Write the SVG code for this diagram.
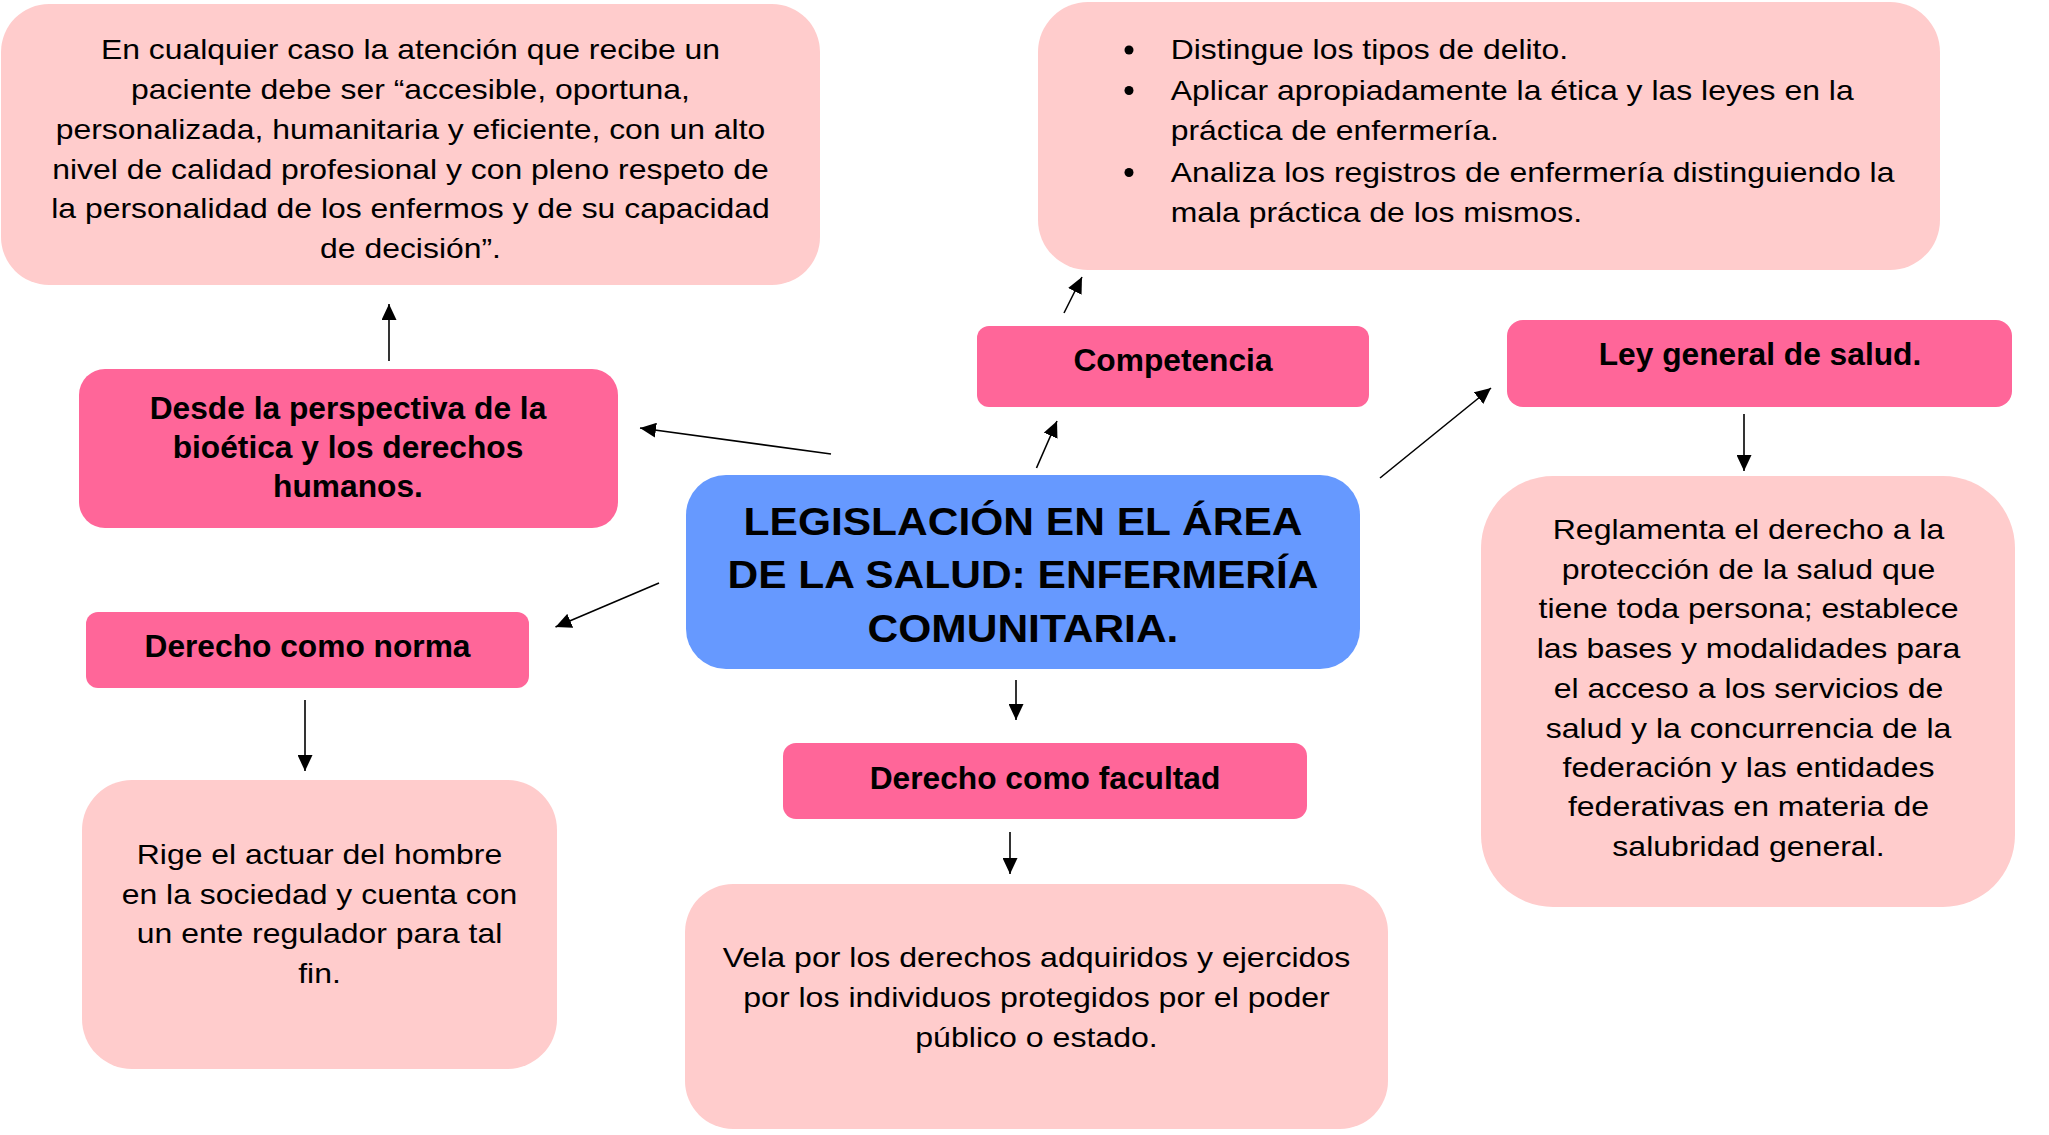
<svg xmlns="http://www.w3.org/2000/svg" width="2049" height="1135" viewBox="0 0 2049 1135">
<style>
.light{fill:#FFCCCC}
.hot{fill:#FF6699}
.blue{fill:#6699FF}
.t{font-family:"Liberation Sans",Arial,sans-serif;font-size:28.5px;fill:#000}
.c{text-anchor:middle}
.b{font-family:"Liberation Sans",Arial,sans-serif;font-size:30.5px;font-weight:bold;fill:#000;text-anchor:middle}
.title{font-family:"Liberation Sans",Arial,sans-serif;font-size:39px;font-weight:bold;fill:#000;text-anchor:middle}
.conn line{stroke:#000;stroke-width:1.6;fill:none;marker-end:url(#ah)}
</style>
<defs>
<marker id="ah" markerUnits="userSpaceOnUse" markerWidth="16" markerHeight="15" refX="16" refY="7.5" orient="auto">
<path d="M0,0 L16,7.5 L0,15 z" fill="#000"/>
</marker>
</defs>
<rect width="2049" height="1135" fill="#fff"/>

<g id="node-atencion">
<rect class="light" x="1" y="4" width="819" height="281" rx="48" ry="48"/>
<g transform="translate(410.5 0) scale(1.12 1)">
<text class="t c" x="0" y="59.5">En cualquier caso la atención que recibe un</text>
<text class="t c" x="0" y="99.3">paciente debe ser “accesible, oportuna,</text>
<text class="t c" x="0" y="139">personalizada, humanitaria y eficiente, con un alto</text>
<text class="t c" x="0" y="178.8">nivel de calidad profesional y con pleno respeto de</text>
<text class="t c" x="0" y="218.5">la personalidad de los enfermos y de su capacidad</text>
<text class="t c" x="0" y="258">de decisión”.</text>
</g>
</g>

<g id="node-competencias-lista">
<rect class="light" x="1038" y="2" width="902" height="268" rx="50" ry="50"/>
<circle cx="1129" cy="50" r="4.5" fill="#000"/>
<circle cx="1129" cy="90.5" r="4.5" fill="#000"/>
<circle cx="1129" cy="172.5" r="4.5" fill="#000"/>
<g transform="translate(1170.7 0) scale(1.12 1)">
<text class="t" x="0" y="59.5">Distingue los tipos de delito.</text>
<text class="t" x="0" y="100">Aplicar apropiadamente la ética y las leyes en la</text>
<text class="t" x="0" y="140">práctica de enfermería.</text>
<text class="t" x="0" y="182">Analiza los registros de enfermería distinguiendo la</text>
<text class="t" x="0" y="222">mala práctica de los mismos.</text>
</g>
</g>

<g id="node-competencia">
<rect class="hot" x="977" y="326" width="392" height="81" rx="12" ry="12"/>
<g transform="translate(1173 0) scale(1.04 1)">
<text class="b" x="0" y="371">Competencia</text>
</g>
</g>

<g id="node-ley">
<rect class="hot" x="1507" y="320" width="505" height="87" rx="16" ry="16"/>
<g transform="translate(1760 0) scale(1.04 1)">
<text class="b" x="0" y="365">Ley general de salud.</text>
</g>
</g>

<g id="node-reglamenta">
<rect class="light" x="1481" y="476" width="534" height="431" rx="72" ry="72"/>
<g transform="translate(1748.5 0) scale(1.124 1)">
<text class="t c" x="0" y="539">Reglamenta el derecho a la</text>
<text class="t c" x="0" y="579">protección de la salud que</text>
<text class="t c" x="0" y="618">tiene toda persona; establece</text>
<text class="t c" x="0" y="658">las bases y modalidades para</text>
<text class="t c" x="0" y="698">el acceso a los servicios de</text>
<text class="t c" x="0" y="738">salud y la concurrencia de la</text>
<text class="t c" x="0" y="777">federación y las entidades</text>
<text class="t c" x="0" y="816">federativas en materia de</text>
<text class="t c" x="0" y="856">salubridad general.</text>
</g>
</g>

<g id="node-bioetica">
<rect class="hot" x="79" y="369" width="539" height="159" rx="26" ry="26"/>
<g transform="translate(348 0) scale(1.04 1)">
<text class="b" x="0" y="419">Desde la perspectiva de la</text>
<text class="b" x="0" y="458">bioética y los derechos</text>
<text class="b" x="0" y="497">humanos.</text>
</g>
</g>

<g id="node-central">
<rect class="blue" x="686" y="475" width="674" height="194" rx="40" ry="40"/>
<g transform="translate(1023 0) scale(1.09 1)">
<text class="title" x="0" y="535">LEGISLACIÓN EN EL ÁREA</text>
<text class="title" x="0" y="588">DE LA SALUD: ENFERMERÍA</text>
<text class="title" x="0" y="642">COMUNITARIA.</text>
</g>
</g>

<g id="node-norma">
<rect class="hot" x="86" y="612" width="443" height="76" rx="12" ry="12"/>
<g transform="translate(307.5 0) scale(1.04 1)">
<text class="b" x="0" y="657">Derecho como norma</text>
</g>
</g>

<g id="node-rige">
<rect class="light" x="82" y="780" width="475" height="289" rx="50" ry="50"/>
<g transform="translate(319.5 0) scale(1.12 1)">
<text class="t c" x="0" y="864">Rige el actuar del hombre</text>
<text class="t c" x="0" y="904">en la sociedad y cuenta con</text>
<text class="t c" x="0" y="943">un ente regulador para tal</text>
<text class="t c" x="0" y="983">fin.</text>
</g>
</g>

<g id="node-facultad">
<rect class="hot" x="783" y="743" width="524" height="76" rx="13" ry="13"/>
<g transform="translate(1045 0) scale(1.04 1)">
<text class="b" x="0" y="789">Derecho como facultad</text>
</g>
</g>

<g id="node-vela">
<rect class="light" x="685" y="884" width="703" height="245" rx="48" ry="48"/>
<g transform="translate(1036.5 0) scale(1.126 1)">
<text class="t c" x="0" y="967">Vela por los derechos adquiridos y ejercidos</text>
<text class="t c" x="0" y="1007">por los individuos protegidos por el poder</text>
<text class="t c" x="0" y="1047">público o estado.</text>
</g>
</g>

<g id="connectors" class="conn">
<line x1="389" y1="361" x2="389" y2="304"/>
<line x1="831" y1="454" x2="640" y2="428"/>
<line x1="1036.5" y1="468" x2="1057" y2="421"/>
<line x1="1064" y1="313" x2="1082" y2="277"/>
<line x1="1380" y1="478" x2="1491" y2="388"/>
<line x1="1744" y1="414" x2="1744" y2="471"/>
<line x1="659" y1="583" x2="555.5" y2="627"/>
<line x1="305" y1="700" x2="305" y2="771"/>
<line x1="1016" y1="680" x2="1016" y2="720"/>
<line x1="1010" y1="832" x2="1010" y2="874"/>
</g>
</svg>
